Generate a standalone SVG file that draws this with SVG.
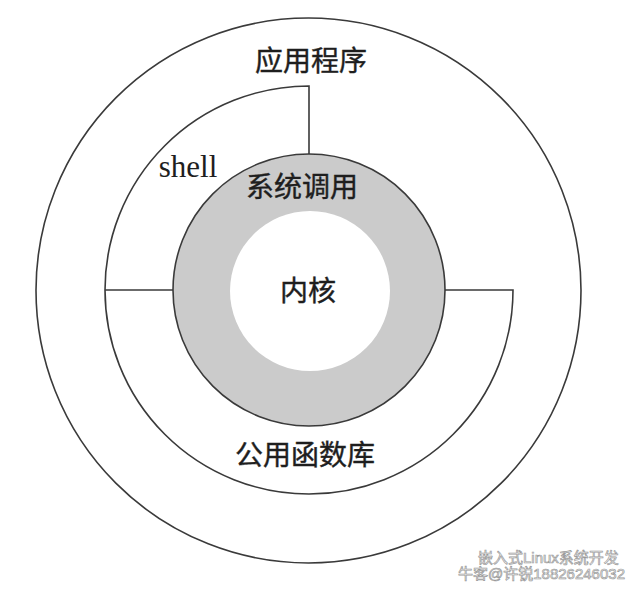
<svg xmlns="http://www.w3.org/2000/svg" width="639" height="591" viewBox="0 0 639 591">
<style>
.ln{fill:none;stroke:#3a3a3a;stroke-width:1.6}
.lbl{font-family:"Liberation Serif","Noto Sans CJK SC",serif;font-size:28px;fill:#1e1e1e;stroke:#1e1e1e;stroke-width:0.4;text-anchor:middle}
.en{font-family:"Liberation Serif",serif;font-size:31px;fill:#1e1e1e;text-anchor:middle}
.wm{font-family:"Liberation Sans","Noto Sans CJK SC",sans-serif;font-size:15px;fill:#fff;stroke:#999;stroke-width:0.7}
</style>
<rect width="639" height="591" fill="#fff"/>
<g id="app">
<circle cx="308.5" cy="290.5" r="272.5" class="ln"/>
<text x="311" y="71" class="lbl">应用程序</text>
</g>
<g id="connectors">
<path id="shell-boundary" class="ln" d="M105 290 A204 204 0 0 1 309 86 L309 154"/>
<path id="shell-base" class="ln" d="M105 290 L173 290"/>
<path id="lib-boundary" class="ln" d="M105 290 A204 204 0 0 0 513 290 L445 290"/>
</g>
<g id="shell">
<text x="188" y="177" class="en">shell</text>
</g>
<g id="lib">
<text x="305" y="465" class="lbl">公用函数库</text>
</g>
<g id="syscall">
<circle cx="309" cy="290" r="136" fill="#cbcbcb" stroke="#3a3a3a" stroke-width="1.6"/>
<text x="302" y="197" class="lbl">系统调用</text>
</g>
<g id="kernel">
<circle cx="310" cy="291" r="80" fill="#fff"/>
<text x="308" y="301" class="lbl">内核</text>
</g>
<g id="watermark">
<text x="478" y="563" class="wm">嵌入式Linux系统开发</text>
<text x="458" y="579" class="wm" font-size="16">牛客@许锐18826246032</text>
</g>
</svg>
